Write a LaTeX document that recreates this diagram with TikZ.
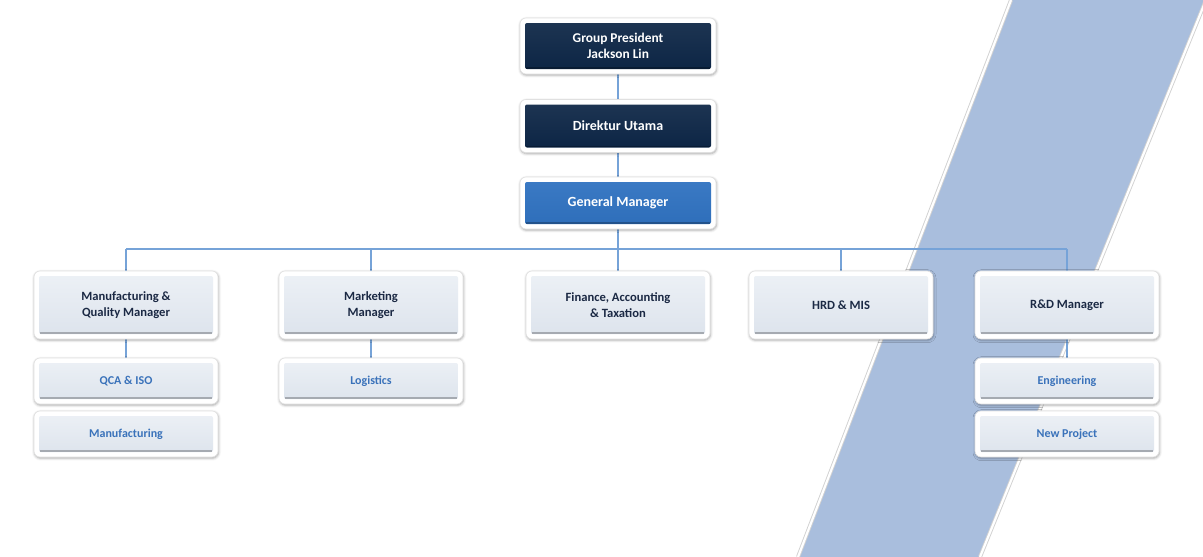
\documentclass[tikz,border=0pt]{standalone}
\usepackage{fontspec}
\setmainfont{Carlito}
\usepackage{tikz}
\usetikzlibrary{shadows,shadows.blur,backgrounds}

\definecolor{navy}{HTML}{0B2444}
\definecolor{gmblue}{HTML}{2F72C1}
\definecolor{bandblue}{HTML}{A9BEDD}
\definecolor{linkblue}{HTML}{76A3D8}
\definecolor{mgrtext}{HTML}{1B2944}
\definecolor{subtext}{HTML}{3A72BA}
\definecolor{paletop}{HTML}{EDF1F6}
\definecolor{palebot}{HTML}{DCE3EC}

\begin{document}
\begin{tikzpicture}[x=1pt,y=-1pt,
    box/.style 2 args={rectangle,fill=white,draw=black!12,line width=0.6pt,
      rounded corners=6pt,align=center,inner sep=0pt,
      blur shadow={shadow xshift=0.5pt,shadow yshift=-1.2pt,
        shadow blur radius=2.5pt,shadow opacity=35},
      path picture={
        \shade[top color=#1,bottom color=#2,rounded corners=2pt]
          ([shift={(5pt,5pt)}]path picture bounding box.south west)
          rectangle ([shift={(-5pt,-5pt)}]path picture bounding box.north east);
        \draw[#2!75!black,line width=1.6pt]
          ([shift={(6pt,6pt)}]path picture bounding box.south west)
          -- ([shift={(-6pt,6pt)}]path picture bounding box.south east);}},
    topbox/.style={box={navy!92!white}{navy},minimum width=196pt,minimum height=53pt,
      text=white,font=\bfseries\fontsize{14}{16}\selectfont},
    gmbox/.style={box={gmblue!94!white}{gmblue!96!black},minimum width=196pt,minimum height=52pt,
      text=white,font=\bfseries\fontsize{14}{16}\selectfont},
    mgrbox/.style={box={paletop}{palebot},minimum width=184pt,minimum height=68pt,
      text=mgrtext,font=\bfseries\fontsize{12.6}{16}\selectfont},
    subbox/.style={box={paletop}{palebot},minimum width=184pt,minimum height=46pt,
      text=subtext,font=\bfseries\fontsize{12}{14}\selectfont},
    link/.style={linkblue,line width=1.4pt}]
  \useasboundingbox (0,0) rectangle (1203,557);

  \node[topbox,minimum height=56pt,font=\bfseries\fontsize{13.4}{16}\selectfont] (pres) at (618,46) {Group President\\Jackson Lin};
  \node[topbox] (dir) at (618,126) {Direktur Utama};
  \node[gmbox] (gm) at (618,203) {General Manager};

  \node[mgrbox] (mfg) at (126,305) {Manufacturing \&\\Quality Manager};
  \node[mgrbox] (mkt) at (371,305) {Marketing\\Manager};
  \node[mgrbox] (fin) at (618,305) {Finance, Accounting\\\& Taxation};
  \node[mgrbox] (hrd) at (841,305) {HRD \& MIS};
  \node[mgrbox] (rnd) at (1067,305) {R\&D Manager};

  \node[subbox] (qca) at (126,381) {QCA \& ISO};
  \node[subbox] (manuf) at (126,434) {Manufacturing};
  \node[subbox] (logi) at (371,381) {Logistics};
  \node[subbox] (eng) at (1067,381) {Engineering};
  \node[subbox] (newp) at (1067,434) {New Project};

  \coordinate (bus) at (0,249);

  \begin{scope}[on background layer]
    \begin{scope}
      \clip (0,0) rectangle (1203,557);
      \fill[bandblue] (1011,0) -- (1206,0) -- (980,557) -- (798,557) -- cycle;
      \draw[black!18,line width=4pt] (1011,0) -- (798,557);
      \draw[black!18,line width=4pt] (1206,0) -- (980,557);
      \draw[white,line width=2.2pt] (1011,0) -- (798,557);
      \draw[white,line width=2.2pt] (1206,0) -- (980,557);
    \end{scope}
    \draw[link] (pres) -- (dir);
    \draw[link] (dir) -- (gm);
    \draw[link] (gm) -- (gm |- bus);
    \draw[link] (mfg |- bus) -- (rnd |- bus);
    \foreach \n in {mfg,mkt,fin,hrd,rnd}
      \draw[link] (\n |- bus) -- (\n);
    \draw[link] (mfg) -- (qca);
    \draw[link] (mkt) -- (logi);
    \draw[link] (rnd) -- (eng);
  \end{scope}
\end{tikzpicture}
\end{document}
